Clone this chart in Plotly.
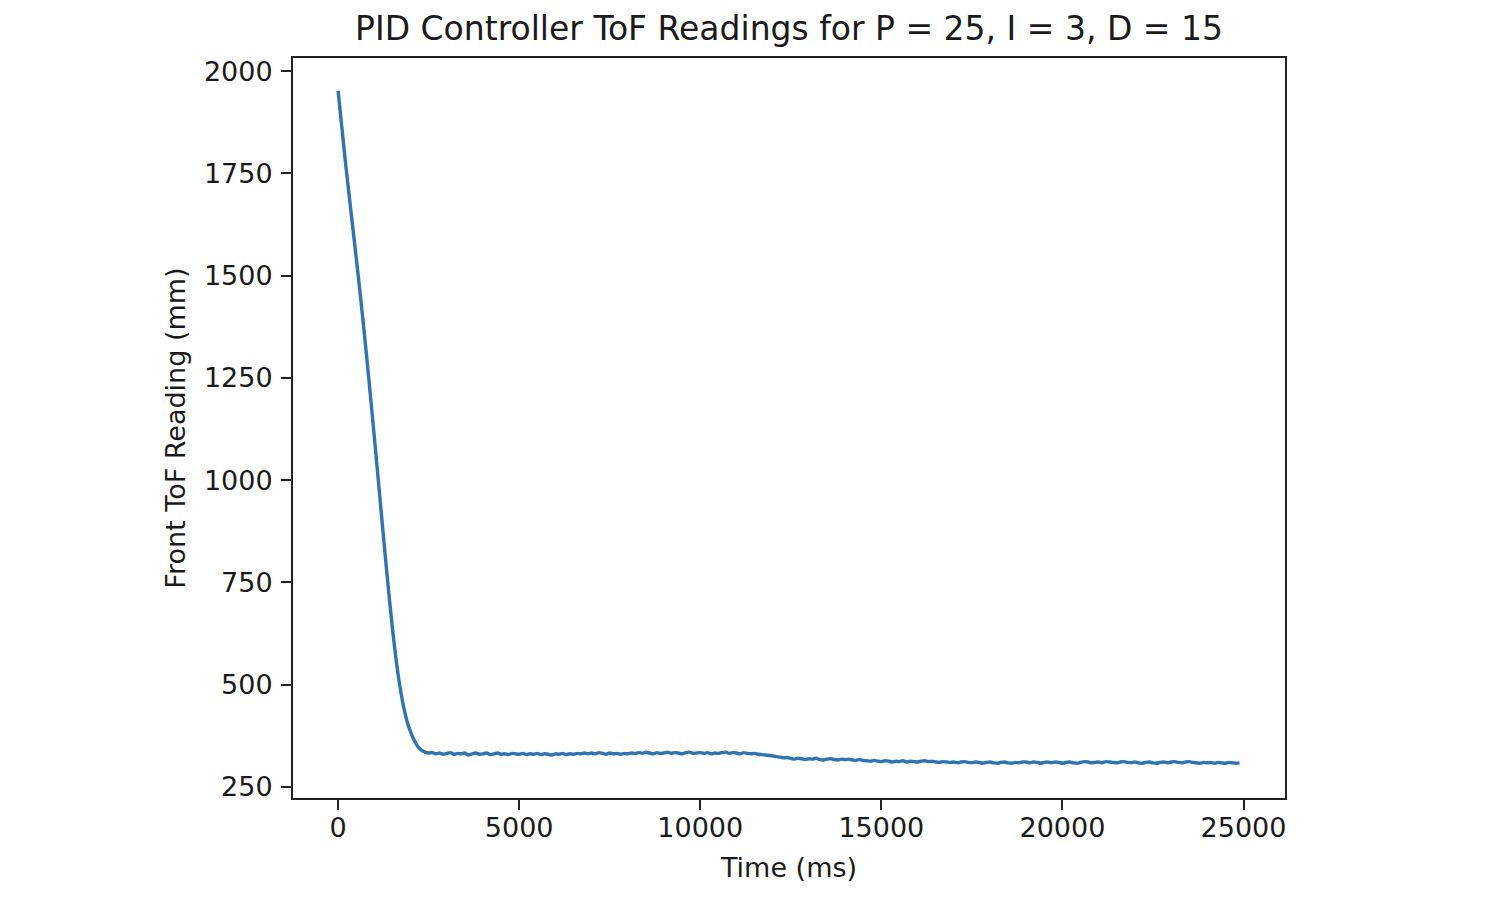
import plotly.graph_objects as go

# Time stamps (ms)
time_ms = [
    0, 100, 200, 300, 400, 500, 600, 700, 800, 900,
    1000, 1100, 1200, 1300, 1400, 1500, 1600, 1700, 1800, 1900,
    2000, 2100, 2200, 2300, 2400, 2500, 2600, 2700, 2800, 2900,
    3000, 3100, 3200, 3300, 3400, 3500, 3600, 3700, 3800, 3900,
    4000, 4100, 4200, 4300, 4400, 4500, 4600, 4700, 4800, 4900,
    5000, 5100, 5200, 5300, 5400, 5500, 5600, 5700, 5800, 5900,
    6000, 6100, 6200, 6300, 6400, 6500, 6600, 6700, 6800, 6900,
    7000, 7100, 7200, 7300, 7400, 7500, 7600, 7700, 7800, 7900,
    8000, 8100, 8200, 8300, 8400, 8500, 8600, 8700, 8800, 8900,
    9000, 9100, 9200, 9300, 9400, 9500, 9600, 9700, 9800, 9900,
    10000, 10100, 10200, 10300, 10400, 10500, 10600, 10700, 10800, 10900,
    11000, 11100, 11200, 11300, 11400, 11500, 11600, 11700, 11800, 11900,
    12000, 12100, 12200, 12300, 12400, 12500, 12600, 12700, 12800, 12900,
    13000, 13100, 13200, 13300, 13400, 13500, 13600, 13700, 13800, 13900,
    14000, 14100, 14200, 14300, 14400, 14500, 14600, 14700, 14800, 14900,
    15000, 15100, 15200, 15300, 15400, 15500, 15600, 15700, 15800, 15900,
    16000, 16100, 16200, 16300, 16400, 16500, 16600, 16700, 16800, 16900,
    17000, 17100, 17200, 17300, 17400, 17500, 17600, 17700, 17800, 17900,
    18000, 18100, 18200, 18300, 18400, 18500, 18600, 18700, 18800, 18900,
    19000, 19100, 19200, 19300, 19400, 19500, 19600, 19700, 19800, 19900,
    20000, 20100, 20200, 20300, 20400, 20500, 20600, 20700, 20800, 20900,
    21000, 21100, 21200, 21300, 21400, 21500, 21600, 21700, 21800, 21900,
    22000, 22100, 22200, 22300, 22400, 22500, 22600, 22700, 22800, 22900,
    23000, 23100, 23200, 23300, 23400, 23500, 23600, 23700, 23800, 23900,
    24000, 24100, 24200, 24300, 24400, 24500, 24600, 24700, 24800, 24890,
]

# Front ToF readings (mm)
front_tof_mm = [
    1952, 1866, 1780, 1700, 1622, 1544, 1464, 1380, 1292, 1200,
    1106, 1010, 913, 817, 724, 638, 562, 500, 450, 412,
    385, 364, 349, 340, 335, 333, 334, 331, 333, 330,
    332, 334, 330, 332, 331, 333, 328, 331, 333, 330,
    331, 333, 329, 331, 333, 330, 331, 329, 332, 331,
    330, 332, 329, 331, 330, 332, 329, 331, 330, 328,
    331, 330, 332, 329, 331, 330, 332, 331, 333, 331,
    333, 331, 334, 332, 330, 333, 331, 332, 330, 332,
    331, 333, 332, 334, 332, 335, 333, 331, 334, 332,
    333, 335, 332, 334, 333, 331, 334, 335, 332, 333,
    334, 332, 334, 331, 333, 332, 334, 335, 332, 334,
    333, 331, 334, 332, 331, 332, 330, 329, 328, 327,
    326, 324, 323, 321, 322, 320, 318, 320, 319, 317,
    319, 318, 320, 317, 316, 318, 319, 317, 316, 318,
    317, 318, 316, 315, 317, 315, 314, 313, 315, 313,
    312, 314, 313, 311, 313, 312, 314, 311, 313, 312,
    311, 313, 314, 312, 313, 311, 310, 312, 311, 310,
    311, 309, 311, 312, 310, 309, 311, 310, 308, 310,
    311, 309, 308, 310, 311, 309, 308, 310, 309, 311,
    311, 309, 311, 310, 308, 310, 311, 309, 311, 310,
    308, 310, 311, 309, 308, 310, 312, 311, 309, 310,
    311, 309, 312, 311, 310, 309, 311, 312, 310, 309,
    311, 309, 308, 310, 311, 309, 308, 310, 311, 309,
    311, 312, 310, 309, 311, 312, 310, 309, 308, 310,
    309, 310, 308, 310, 309, 308, 310, 309, 308, 309,
]

title_text = "PID Controller ToF Readings for P = 25, I = 3, D = 15"
x_label = "Time (ms)"
y_label = "Front ToF Reading (mm)"

font_family = "DejaVu Sans"
text_color = "#1a1a1a"

fig = go.Figure()
fig.add_trace(go.Scatter(
    x=time_ms,
    y=front_tof_mm,
    mode="lines",
    line=dict(color="#2f73b4", width=3.4, shape="spline", smoothing=0.6),
    showlegend=False,
    hoverinfo="skip",
))

axis_common = dict(
    showline=True,
    mirror=True,
    linecolor="#222222",
    linewidth=2,
    showgrid=False,
    zeroline=False,
    ticks="outside",
    ticklen=10,
    tickwidth=2,
    tickcolor="#222222",
    tickfont=dict(family=font_family, size=27, color=text_color),
)

fig.update_layout(
    width=1499,
    height=899,
    paper_bgcolor="white",
    plot_bgcolor="white",
    margin=dict(l=285, r=222, t=50, b=109, autoexpand=False),
    title=dict(
        text=title_text,
        font=dict(family=font_family, size=33, color=text_color),
        x=0.5,
        xanchor="center",
        xref="paper",
        yref="container",
        y=1 - 20 / 899,
        yanchor="middle",
    ),
    xaxis=dict(
        **axis_common,
        range=[-1245, 26145],
        tick0=0,
        dtick=5000,
        tickformat="d",
        ticklabelstandoff=-5,
        title=dict(text=x_label, font=dict(family=font_family, size=27, color=text_color), standoff=16),
    ),
    yaxis=dict(
        **axis_common,
        range=[223, 2032],
        tick0=250,
        dtick=250,
        tickformat="d",
        ticklabelstandoff=3,
        title=dict(text=y_label, font=dict(family=font_family, size=27, color=text_color), standoff=10),
    ),
)

fig.write_html("out.html")
